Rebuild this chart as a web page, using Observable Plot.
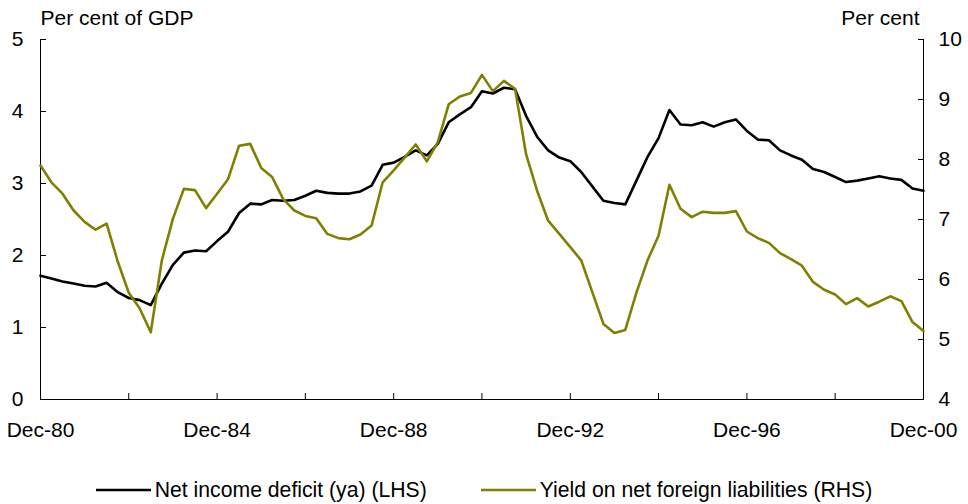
<!DOCTYPE html>
<html>
<head>
<meta charset="utf-8">
<script src="https://cdn.jsdelivr.net/npm/d3@7"></script>
<script src="https://cdn.jsdelivr.net/npm/@observablehq/plot@0.6"></script>
<style>
  html, body { margin: 0; padding: 0; background: #fff; }
  body { width: 968px; height: 504px; overflow: hidden; font-family: "Liberation Sans", Arial, sans-serif; }
  #legend { display: flex; justify-content: center; align-items: center; height: 60px; font-size: 21.2px; color: #000; }
  .item { display: flex; align-items: center; }
  .item + .item { margin-left: 54px; }
  .item svg { margin-right: 4px; }
</style>
</head>
<body>
<div id="chart"></div>
<div id="legend"></div>
<script>
// ---- data (quarterly, Dec-80 .. Dec-00) ----
const firstQuarter = new Date(Date.UTC(1980, 11, 1));
const lastQuarter = new Date(Date.UTC(2000, 11, 1));

const incomeDeficit = [
  1.72, 1.68, 1.64, 1.61, 1.58, 1.57, 1.62, 1.49, 1.41, 1.38,
  1.31, 1.61, 1.87, 2.04, 2.07, 2.06, 2.20, 2.33, 2.59, 2.72,
  2.71, 2.77, 2.76, 2.77, 2.83, 2.90, 2.87, 2.86, 2.86, 2.89,
  2.97, 3.26, 3.29, 3.37, 3.46, 3.39, 3.55, 3.85, 3.96, 4.06,
  4.28, 4.25, 4.33, 4.31, 3.94, 3.65, 3.46, 3.36, 3.31, 3.16,
  2.96, 2.76, 2.73, 2.71, 3.04, 3.37, 3.63, 4.02, 3.82, 3.81,
  3.85, 3.79, 3.85, 3.89, 3.73, 3.61, 3.60, 3.46, 3.39, 3.33,
  3.20, 3.16, 3.09, 3.02, 3.04, 3.07, 3.10, 3.07, 3.05, 2.93,
  2.90
];

const foreignYield = [
  7.90, 7.62, 7.43, 7.15, 6.96, 6.83, 6.93, 6.30, 5.78, 5.52,
  5.12, 6.32, 7.01, 7.51, 7.49, 7.19, 7.43, 7.67, 8.23, 8.26,
  7.86, 7.71, 7.34, 7.15, 7.06, 7.02, 6.76, 6.69, 6.67, 6.75,
  6.90, 7.62, 7.82, 8.03, 8.25, 7.97, 8.29, 8.92, 9.05, 9.11,
  9.41, 9.14, 9.31, 9.18, 8.09, 7.48, 6.98, 6.76, 6.54, 6.32,
  5.79, 5.26, 5.11, 5.16, 5.78, 6.32, 6.73, 7.58, 7.18, 7.04,
  7.13, 7.11, 7.11, 7.14, 6.80, 6.69, 6.61, 6.44, 6.34, 6.23,
  5.96, 5.83, 5.75, 5.59, 5.69, 5.55, 5.63, 5.72, 5.64, 5.29,
  5.14
];

const tickYears = [1980, 1982, 1984, 1986, 1988, 1990, 1992, 1994, 1996, 1998, 2000];
const labelYears = [1980, 1984, 1988, 1992, 1996, 2000];
const leftTicks = [0, 1, 2, 3, 4, 5];
const rightTicks = [4, 5, 6, 7, 8, 9, 10];

const leftTitle = "Per cent of GDP";
const rightTitle = "Per cent";
const seriesNames = ["Net income deficit (ya) (LHS)", "Yield on net foreign liabilities (RHS)"];
const seriesColors = ["#000000", "#808000"];

// ---- build ----
const leftDomain = [0, 5];
const rightDomain = [4, 10];
const toLeft = r => leftDomain[0] + (r - rightDomain[0]) * (leftDomain[1] - leftDomain[0]) / (rightDomain[1] - rightDomain[0]);
const fromLeft = l => rightDomain[0] + (l - leftDomain[0]) * (rightDomain[1] - rightDomain[0]) / (leftDomain[1] - leftDomain[0]);

const qDate = i => d3.utcMonth.offset(firstQuarter, 3 * i);
const deficitData = incomeDeficit.map((v, i) => ({date: qDate(i), v}));
const yieldData = foreignYield.map((v, i) => ({date: qDate(i), v}));
const tickDates = tickYears.map(y => new Date(Date.UTC(y, 11, 1)));
const fmtX = d => labelYears.includes(d.getUTCFullYear()) ? "Dec-" + String(d.getUTCFullYear() % 100).padStart(2, "0") : "";

const font = '"Liberation Sans", Arial, sans-serif';
const fs = 21;

const chart = Plot.plot({
  width: 968,
  height: 460,
  marginTop: 39,
  marginBottom: 61,
  marginLeft: 40,
  marginRight: 45,
  style: {fontFamily: font, fontSize: fs + "px", color: "#000", background: "#fff", overflow: "visible"},
  x: {type: "utc", domain: [firstQuarter, lastQuarter]},
  y: {domain: leftDomain},
  marks: [
    Plot.ruleY([leftDomain[0]], {stroke: "#000", strokeWidth: 1}),
    Plot.ruleX([firstQuarter, lastQuarter], {stroke: "#000", strokeWidth: 1}),
    Plot.axisX({ticks: tickDates, tickFormat: fmtX, tickSize: -6, tickPadding: 29, stroke: "#000", fontSize: fs}),
    Plot.axisY({anchor: "left", ticks: leftTicks, tickFormat: d => String(Math.round(d)), tickSize: -6, tickPadding: 23, label: null, stroke: "#000", fontSize: fs}),
    Plot.axisY({anchor: "right", ticks: rightTicks.map(toLeft), tickFormat: d => String(Math.round(fromLeft(d))), tickSize: -6, tickPadding: 21, label: null, stroke: "#000", fontSize: fs}),
    Plot.line(deficitData, {x: "date", y: "v", stroke: seriesColors[0], strokeWidth: 2.6}),
    Plot.line(yieldData, {x: "date", y: d => toLeft(d.v), stroke: seriesColors[1], strokeWidth: 2.6}),
    Plot.text([leftTitle], {frameAnchor: "top-left", textAnchor: "start", dy: -29, fontSize: fs}),
    Plot.text([rightTitle], {frameAnchor: "top-right", textAnchor: "end", dx: -4, dy: -29, fontSize: fs})
  ]
});
document.getElementById("chart").appendChild(chart);

const legend = document.getElementById("legend");
seriesNames.forEach((name, i) => {
  const item = document.createElement("div");
  item.className = "item";
  item.innerHTML = `<svg width="55" height="6"><line x1="0" x2="55" y1="3" y2="3" stroke="${seriesColors[i]}" stroke-width="2.6"/></svg><span>${name}</span>`;
  legend.appendChild(item);
});
</script>
</body>
</html>
